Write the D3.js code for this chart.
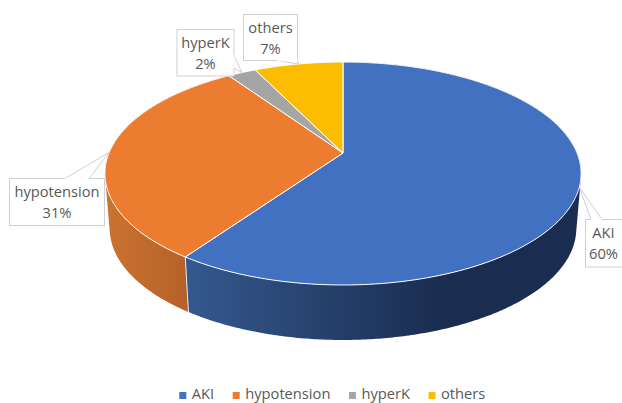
<!DOCTYPE html>
<html>
<head>
<meta charset="utf-8">
<script src="https://cdn.jsdelivr.net/npm/d3@7"></script>
<style>
  html, body { margin: 0; padding: 0; background: #fff; overflow: hidden; }
  svg { display: block; }
  text { font-family: "Open Sans", sans-serif; fill: #595959; }
</style>
</head>
<body>
<svg id="chart" width="622" height="403"></svg>
<script>
var categories = ["AKI", "hypotension", "hyperK", "others"];
var shares = [59.7, 30.8, 2.3, 7.2];
var colors = ["#4371c2", "#eb7c30", "#a5a5a5", "#fcbd00"];

// label box for each slice: x, y, w, h and the two points where the callout leaves the box
var boxes = [
    { x: 585.5, y: 219.5, w: 45, h: 47.5, a: [591, 219.5], b: [602, 219.5] },
    { x: 9.5, y: 178.5, w: 95, h: 47, a: [65, 178.5], b: [89, 178.5] },
    { x: 177, y: 29.5, w: 57, h: 46.5, a: [234, 55], b: [234, 68] },
    { x: 243.5, y: 14.5, w: 54, h: 46, a: [277, 60.5], b: [297.5, 60.5] }
];

var svg = d3.select("#chart");

// tilted disc: unit circle pushed through a perspective map so the apex sits above the ellipse centre
var cx = 343, cy = 153, tilt = 0.1839, scaleX = 234, scaleY = 107.7;
var depth = 55, bottomShrink = 0.98;

function rim(angle) {
    var X = Math.sin(angle), Y = -Math.cos(angle), w = 1 - tilt * Y;
    return [cx + scaleX * X / w, cy + scaleY * Y / w];
}
function lowerRim(angle) {
    var p = rim(angle);
    return [cx + (p[0] - cx) * bottomShrink, p[1] + depth];
}
function sweep(a0, a1, fn) {
    var n = Math.max(2, Math.ceil((a1 - a0) / 0.01));
    return d3.range(n + 1).map(function (i) { return fn(a0 + (a1 - a0) * i / n); });
}

var arcs = d3.pie().sort(null).value(function (d) { return d; })(shares);
var line = d3.line();

// wall made of small quads all wound the same way, so the tangent edges at the sides stay filled
function wallPath(a0, a1) {
    var top = sweep(a0, a1, rim), bottom = sweep(a0, a1, lowerRim), out = "";
    for (var i = 0; i < top.length - 1; i++) {
        var quad = [top[i], top[i + 1], bottom[i + 1], bottom[i]];
        if (d3.polygonArea(quad) < 0) quad.reverse();
        out += line(quad) + "Z";
    }
    return out;
}

var defs = svg.append("defs");
var wallFills = [
    { id: "wallBlue", x1: 184, x2: 440, stops: ["#35598f", "#1a2d50"] },
    { id: "wallOrange", x1: 105, x2: 188, stops: ["#cb7430", "#b6602a"] }
];
wallFills.forEach(function (g) {
    var grad = defs.append("linearGradient")
        .attr("id", g.id)
        .attr("gradientUnits", "userSpaceOnUse")
        .attr("x1", g.x1).attr("x2", g.x2).attr("y1", 0).attr("y2", 0);
    grad.append("stop").attr("offset", 0).attr("stop-color", g.stops[0]);
    grad.append("stop").attr("offset", 1).attr("stop-color", g.stops[1]);
});

// side walls, only the first two slices show any
svg.append("g").selectAll("path")
    .data(arcs.slice(0, 2))
    .enter().append("path")
    .attr("d", function (d) { return wallPath(d.startAngle, d.endAngle); })
    .attr("fill", function (d, i) { return "url(#" + wallFills[i].id + ")"; });

// seam between the two visible walls
var seam = arcs[0].endAngle;
svg.append("path")
    .attr("d", line([rim(seam), lowerRim(seam)]))
    .attr("stroke", "#e8e8e8")
    .attr("stroke-width", 1)
    .attr("fill", "none");

// top face
svg.append("g").selectAll("path")
    .data(arcs)
    .enter().append("path")
    .attr("d", function (d) {
        return line([[cx, cy]].concat(sweep(d.startAngle, d.endAngle, rim))) + "Z";
    })
    .attr("fill", function (d, i) { return colors[i]; })
    .attr("stroke", "#fff")
    .attr("stroke-width", 1)
    .attr("stroke-linejoin", "round");

// callouts
var labels = svg.append("g").selectAll("g")
    .data(arcs)
    .enter().append("g");

labels.append("path")
    .attr("d", function (d, i) {
        var b = boxes[i], tip = rim((d.startAngle + d.endAngle) / 2);
        return line([b.a, tip, b.b]);
    })
    .attr("fill", "#fff")
    .attr("stroke", "#d0d0d0")
    .attr("stroke-width", 1);

labels.append("rect")
    .attr("x", function (d, i) { return boxes[i].x; })
    .attr("y", function (d, i) { return boxes[i].y; })
    .attr("width", function (d, i) { return boxes[i].w; })
    .attr("height", function (d, i) { return boxes[i].h; })
    .attr("fill", "#fff")
    .attr("stroke", "#d0d0d0")
    .attr("stroke-width", 1);

// cover the box edge where the callout joins it
labels.append("path")
    .attr("d", function (d, i) { return line([boxes[i].a, boxes[i].b]); })
    .attr("stroke", "#fff")
    .attr("stroke-width", 1.5)
    .attr("fill", "none");

labels.append("text")
    .attr("text-anchor", "middle")
    .attr("font-size", 14.7)
    .attr("x", function (d, i) { return boxes[i].x + boxes[i].w / 2 + (i === 0 ? -4.5 : 0); })
    .attr("y", function (d, i) { return boxes[i].y + 18.5; })
    .text(function (d, i) { return categories[i]; });

labels.append("text")
    .attr("text-anchor", "middle")
    .attr("font-size", 14.7)
    .attr("x", function (d, i) { return boxes[i].x + boxes[i].w / 2 + (i === 0 ? -4.5 : 0); })
    .attr("y", function (d, i) { return boxes[i].y + 39.5; })
    .text(function (d) { return Math.round(d.data) + "%"; });

// legend, centred under the pie
var legend = svg.append("g");
var legendX = 179.3, legendY = 395.5;
var items = legend.selectAll("g")
    .data(categories)
    .enter().append("g");

items.append("rect")
    .attr("width", 7).attr("height", 7)
    .attr("y", -3.5)
    .attr("fill", function (d, i) { return colors[i]; });

// baseline lifted a little so the descenders stay inside the window
items.append("text")
    .attr("x", 12.5)
    .attr("y", 3)
    .attr("font-size", 14.7)
    .text(function (d) { return d; });

items.attr("transform", function () {
    var t = "translate(" + legendX + "," + legendY + ")";
    legendX += 12.5 + this.querySelector("text").getComputedTextLength() + 18.5;
    return t;
});
</script>
</body>
</html>
